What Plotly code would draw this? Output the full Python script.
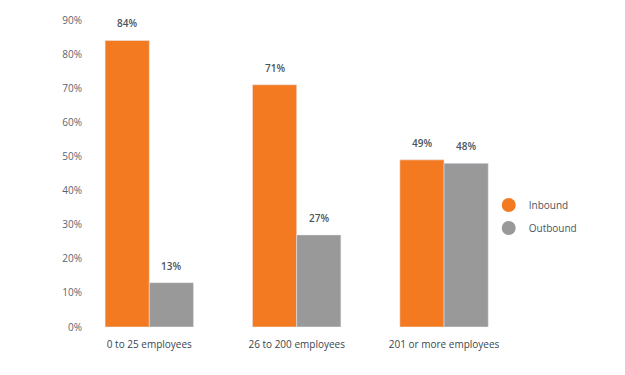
import plotly.graph_objects as go

categories = ["0 to 25 employees", "26 to 200 employees", "201 or more employees"]
inbound = [84, 71, 49]
outbound = [13, 27, 48]
y_ticks = [0, 10, 20, 30, 40, 50, 60, 70, 80, 90]

ORANGE = "#F47A22"
GRAY = "#999999"
FONT = "Open Sans"

xs = list(range(len(categories)))
fig = go.Figure()
fig.add_bar(x=xs, y=inbound, name="Inbound", marker_color=ORANGE, showlegend=False)
fig.add_bar(x=xs, y=outbound, name="Outbound", marker_color=GRAY, showlegend=False)
fig.add_scatter(x=[None], y=[None], mode="markers", name="Inbound", legendgroup="a",
                marker=dict(symbol="circle", size=14, color=ORANGE))
fig.add_scatter(x=[None], y=[None], mode="markers", name="Outbound", legendgroup="b",
                marker=dict(symbol="circle", size=14, color=GRAY))

bargap = 0.4
half = (1 - bargap) / 4
for i, (a, b) in enumerate(zip(inbound, outbound)):
    for dx, v in ((-half, a), (half, b)):
        fig.add_annotation(x=i + dx, y=v, text=f"{v}%", showarrow=False,
                           yshift=17, font=dict(family=FONT, size=10, color="#4a5560", weight=600))

fig.update_layout(
    width=625, height=375,
    margin=dict(l=83, r=122, t=14, b=48),
    paper_bgcolor="white", plot_bgcolor="white",
    barmode="group", bargap=bargap, bargroupgap=0,
    font=dict(family=FONT, size=10, color="#4a5560"),
    legend=dict(x=0.966, y=0.36, xanchor="left", yanchor="middle", tracegroupgap=4,
                font=dict(family=FONT, size=10, color="#4a5560")),
    xaxis=dict(range=[-0.45, 2.4], tickvals=xs, ticktext=categories,
               showgrid=False, zeroline=False, showline=False, ticklabelstandoff=10,
               tickfont=dict(family=FONT, size=10, color="#3a4550")),
    yaxis=dict(range=[0, 90], tickvals=y_ticks, ticktext=[f"{t}%" for t in y_ticks],
               showgrid=False, zeroline=False, showline=False,
               tickfont=dict(family=FONT, size=10, color="#5a6470")),
)
fig.write_html("out.html")
